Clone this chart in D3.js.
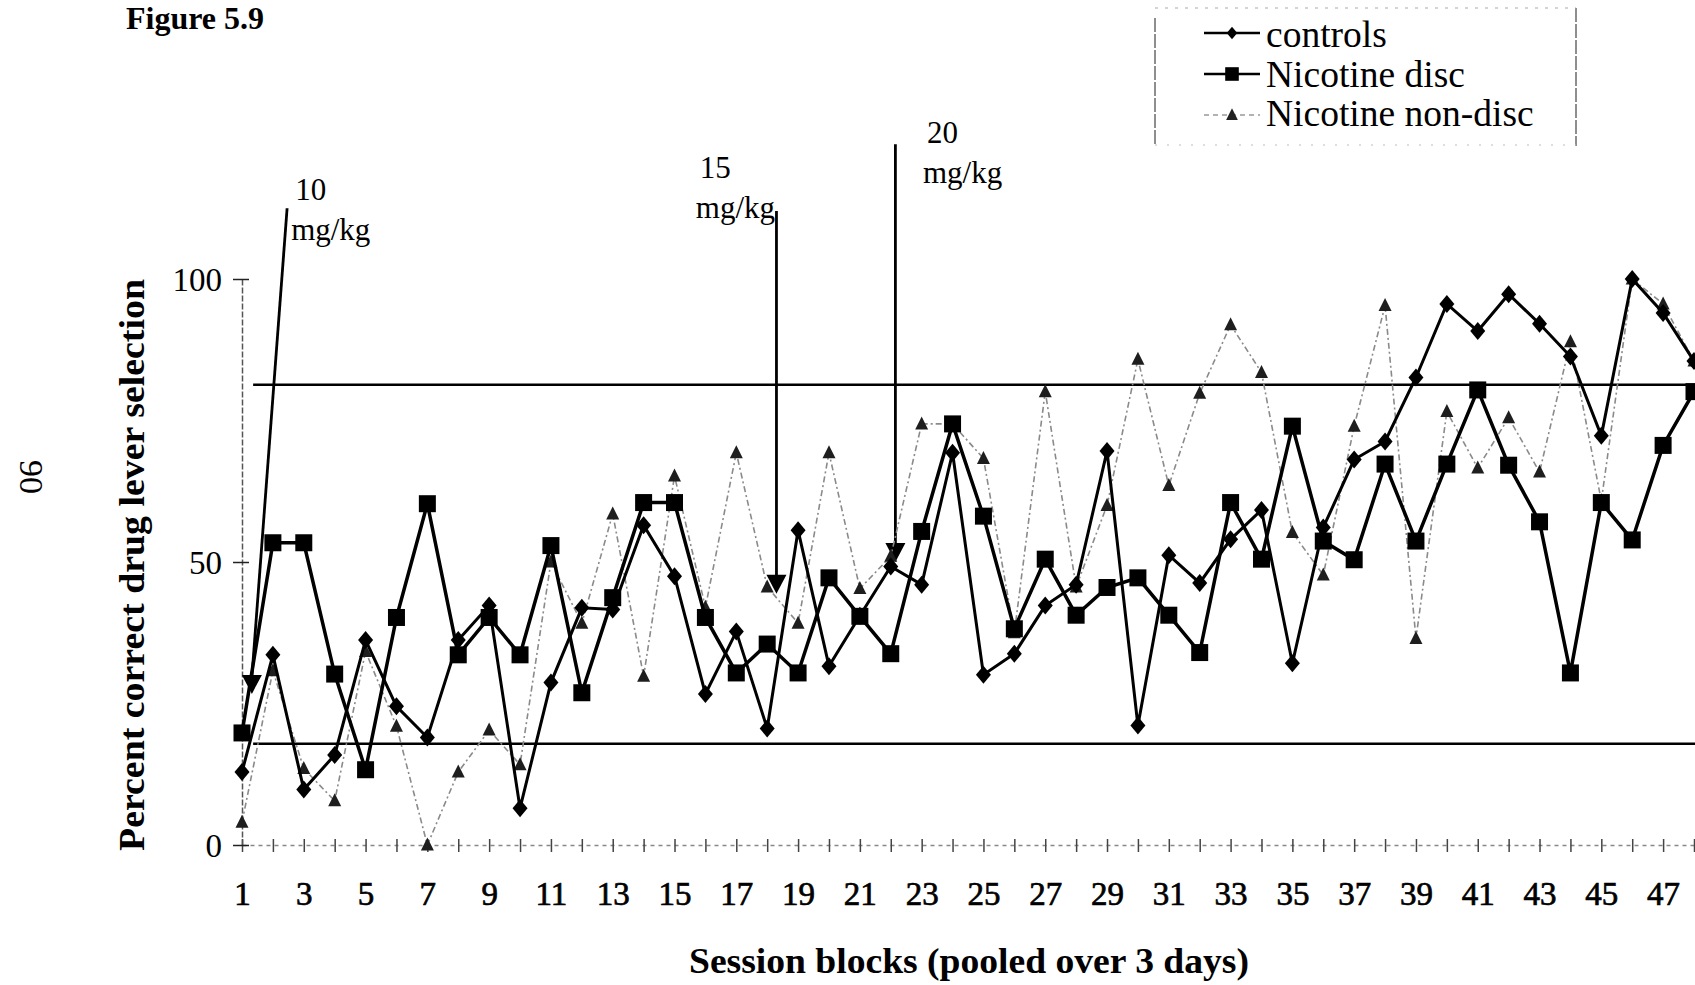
<!DOCTYPE html>
<html>
<head>
<meta charset="utf-8">
<script src="https://cdn.jsdelivr.net/npm/d3@7"></script>
<style>
  body { margin: 0; background: #fff; }
  svg { display: block; font-family: "Liberation Serif", "Times New Roman", serif; }
</style>
</head>
<body>
<div id="chart"></div>
<script>
var w = 1695, h = 985;

// session blocks 1..48
var sessions = d3.range(1, 49);
var yTickValues = [0, 50, 100];

var controls = [12.9, 33.6, 9.8, 15.9, 36.2, 24.5, 19.0, 36.2, 42.3, 6.5,
                28.7, 41.9, 41.6, 56.5, 47.5, 26.7, 37.7, 20.6, 55.6, 31.6,
                40.5, 49.2, 46.0, 69.3, 30.1, 33.8, 42.3, 46.0, 69.6, 21.1,
                51.2, 46.3, 54.0, 59.2, 32.1, 56.1, 68.1, 71.3, 82.6, 95.6,
                90.8, 97.3, 92.1, 86.3, 72.3, 100, 94.0, 85.5];
var nicDisc = [19.8, 53.4, 53.4, 30.2, 13.3, 40.2, 60.3, 33.6, 40.2, 33.6,
               52.9, 26.9, 43.7, 60.5, 60.5, 40.2, 30.4, 35.5, 30.4, 47.2,
               40.4, 33.8, 55.4, 74.4, 58.1, 38.2, 50.5, 40.6, 45.5, 47.2,
               40.6, 34.0, 60.5, 50.5, 74.0, 53.7, 50.4, 67.3, 53.7, 67.3,
               80.4, 67.1, 57.1, 30.4, 60.5, 53.9, 70.6, 80.1];
var nicNonDisc = [4.0, 30.8, 13.5, 7.8, 34.2, 21.0, 0, 12.9, 20.3, 14.2,
                  50.0, 39.2, 58.5, 29.8, 65.2, 42.0, 69.3, 45.6, 39.2, 69.3,
                  45.3, 51.0, 74.4, 74.4, 68.3, 37.5, 80.1, 45.6, 60.0, 85.8,
                  63.5, 79.8, 91.9, 83.5, 55.2, 47.7, 74.0, 95.3, 36.5, 76.6,
                  66.6, 75.5, 65.9, 88.9, 60.8, 100, 95.6, 85.5];

var seriesNames = ["controls", "Nicotine disc", "Nicotine non-disc"];

// criterion lines
var limitLines = [81.3, 17.9];
var limitStart = 1.36;

// dose change arrows: label, top point, tip point, label anchor (session, percent)
var doseLabels = ["10", "15", "20"];
var doseTop = [[2.46, 112.5], [18.3, 112], [22.15, 123.8]];
var doseTip = [[1.32, 26.7], [18.3, 44.4], [22.15, 50.0]];
var doseText = [[2.72, 113.9], [15.82, 117.8], [23.17, 124.0]];

var svg = d3.select("#chart").append("svg")
            .attr("width", w)
            .attr("height", h);

var xScale = d3.scaleLinear().domain([1, 48]).range([242, 1694]);
var yScale = d3.scaleLinear().domain([0, 100]).range([845, 279]);

//Title
svg.append("text")
   .attr("x", 126).attr("y", 29)
   .attr("font-size", 32).attr("font-weight", "bold")
   .attr("textLength", 138).attr("lengthAdjust", "spacingAndGlyphs")
   .text("Figure 5.9");

//Page number (rotated page)
svg.append("text")
   .attr("transform", "translate(20,477)rotate(90)")
   .attr("text-anchor", "middle")
   .attr("font-size", 34)
   .text("90");

//x axis
var xAxis = d3.axisBottom(xScale)
              .tickValues(sessions)
              .tickSizeOuter(0)
              .tickFormat(function(d) { return d % 2 ? d : ""; });
var gx = svg.append("g")
            .attr("transform", "translate(0," + yScale(0) + ")")
            .call(xAxis);
gx.select(".domain").attr("stroke", "#888").attr("stroke-width", 1.3).attr("stroke-dasharray", "4,4");
gx.selectAll(".tick line").attr("y1", -6).attr("y2", 7).attr("stroke", "#444").attr("stroke-width", 1.5);
gx.selectAll(".tick text")
  .attr("y", 60).attr("dy", 0)
  .attr("font-size", 33).attr("fill", "#000")
  .attr("stroke", "#000").attr("stroke-width", 0.7)
  .attr("font-family", "Liberation Serif");

//y axis
var yAxis = d3.axisLeft(yScale).tickValues(yTickValues).tickSizeOuter(0);
var gy = svg.append("g")
            .attr("transform", "translate(" + xScale(1) + ",0)")
            .call(yAxis);
gy.select(".domain").attr("stroke", "#555").attr("stroke-width", 1.5).attr("stroke-dasharray", "6,2");
gy.selectAll(".tick line").attr("x1", -9).attr("x2", 7).attr("stroke", "#222").attr("stroke-width", 1.5);
gy.selectAll(".tick text")
  .attr("x", -20).attr("dy", "0.34em")
  .attr("font-size", 33).attr("fill", "#000")
  .attr("font-family", "Liberation Serif");

//Axis titles
svg.append("text")
   .attr("transform", "translate(144,565)rotate(-90)")
   .attr("text-anchor", "middle")
   .attr("font-size", 35).attr("font-weight", "bold")
   .attr("textLength", 572).attr("lengthAdjust", "spacingAndGlyphs")
   .text("Percent correct drug lever selection");
svg.append("text")
   .attr("x", 969).attr("y", 973)
   .attr("text-anchor", "middle")
   .attr("font-size", 35).attr("font-weight", "bold")
   .attr("textLength", 560).attr("lengthAdjust", "spacingAndGlyphs")
   .text("Session blocks (pooled over 3 days)");

//Criterion lines
svg.selectAll(".limit")
   .data(limitLines)
   .enter()
   .append("line")
   .attr("class", "limit")
   .attr("x1", xScale(limitStart)).attr("x2", w)
   .attr("y1", function(d) { return yScale(d); })
   .attr("y2", function(d) { return yScale(d); })
   .attr("stroke", "#000").attr("stroke-width", 2.5);

//Dose arrows
var arrows = svg.append("g").attr("class", "arrows");
doseLabels.forEach(function(lab, i) {
    var tx = xScale(doseTip[i][0]), ty = yScale(doseTip[i][1]);
    var head = 19;
    arrows.append("line")
          .attr("x1", xScale(doseTop[i][0])).attr("y1", yScale(doseTop[i][1]))
          .attr("x2", tx).attr("y2", ty - head + 2)
          .attr("stroke", "#000").attr("stroke-width", 2.8);
    arrows.append("path")
          .attr("d", "M" + (tx - 10) + "," + (ty - head) + "L" + (tx + 10) + "," + (ty - head) + "L" + tx + "," + ty + "Z")
          .attr("fill", "#000");
    var t = arrows.append("text")
                  .attr("x", xScale(doseText[i][0]))
                  .attr("y", yScale(doseText[i][1]))
                  .attr("font-size", 31);
    t.append("tspan").attr("x", xScale(doseText[i][0])).text(lab);
    t.append("tspan").attr("x", xScale(doseText[i][0]) - 4).attr("dy", 40).text("mg/kg");
});

//Marker shapes
var diamond = "M0,-9L7.5,0L0,9L-7.5,0Z";
var square = "M-8.5,-8.5L8.5,-8.5L8.5,8.5L-8.5,8.5Z";
var triangle = "M0,-7.5L6.5,5.5L-6.5,5.5Z";

var line = d3.line()
             .x(function(d, i) { return xScale(sessions[i]); })
             .y(function(d) { return yScale(d); });

//Nicotine non-disc (dashed grey)
var nd = svg.append("g").attr("class", "series").attr("id", "non-disc");
nd.append("path")
  .datum(nicNonDisc)
  .attr("d", line)
  .style("fill", "none")
  .style("stroke", "#8a8a8a")
  .style("stroke-width", 1.6)
  .style("stroke-dasharray", "6,3,2,3");
nd.selectAll("path.mk")
  .data(nicNonDisc)
  .enter()
  .append("path")
  .attr("class", "mk")
  .attr("transform", function(d, i) { return "translate(" + xScale(sessions[i]) + "," + yScale(d) + ")"; })
  .attr("d", triangle)
  .style("fill", "#1e1e1e");

//Nicotine disc
var disc = svg.append("g").attr("class", "series").attr("id", "disc");
disc.append("path")
    .datum(nicDisc)
    .attr("d", line)
    .style("fill", "none")
    .style("stroke", "#000")
    .style("stroke-width", 3.5);
disc.selectAll("path.mk")
    .data(nicDisc)
    .enter()
    .append("path")
    .attr("class", "mk")
    .attr("transform", function(d, i) { return "translate(" + xScale(sessions[i]) + "," + yScale(d) + ")"; })
    .attr("d", square)
    .style("fill", "#000");

//Controls
var ctl = svg.append("g").attr("class", "series").attr("id", "controls");
ctl.append("path")
   .datum(controls)
   .attr("d", line)
   .style("fill", "none")
   .style("stroke", "#000")
   .style("stroke-width", 3);
ctl.selectAll("path.mk")
   .data(controls)
   .enter()
   .append("path")
   .attr("class", "mk")
   .attr("transform", function(d, i) { return "translate(" + xScale(sessions[i]) + "," + yScale(d) + ")"; })
   .attr("d", diamond)
   .style("fill", "#000");

//Legend
var lg = svg.append("g").attr("class", "legend");
lg.append("line").attr("x1", 1155).attr("x2", 1155).attr("y1", 18).attr("y2", 144)
  .attr("stroke", "#444").attr("stroke-width", 1.2).attr("stroke-dasharray", "14,2");
lg.append("line").attr("x1", 1576).attr("x2", 1576).attr("y1", 8).attr("y2", 146)
  .attr("stroke", "#444").attr("stroke-width", 1.2).attr("stroke-dasharray", "14,2");
lg.append("line").attr("x1", 1155).attr("x2", 1576).attr("y1", 8).attr("y2", 8)
  .attr("stroke", "#aaa").attr("stroke-width", 1.2).attr("stroke-dasharray", "3,7");
lg.append("line").attr("x1", 1155).attr("x2", 1576).attr("y1", 145).attr("y2", 145)
  .attr("stroke", "#bbb").attr("stroke-width", 1.2).attr("stroke-dasharray", "2,10");

var legendShapes = [diamond, square, triangle];
seriesNames.forEach(function(name, i) {
    var cy = 33 + i * 41;
    var row = lg.append("g");
    row.append("line")
       .attr("x1", 1204).attr("x2", 1260).attr("y1", cy).attr("y2", cy)
       .attr("stroke", i == 2 ? "#999" : "#000")
       .attr("stroke-width", i == 2 ? 1.5 : 2.5)
       .attr("stroke-dasharray", i == 2 ? "5,4" : null);
    row.append("path")
       .attr("transform", "translate(1232," + cy + ")" + (i == 0 ? "scale(0.7)" : i == 1 ? "scale(0.8)" : "scale(0.9)"))
       .attr("d", legendShapes[i])
       .attr("fill", i == 2 ? "#222" : "#000");
    row.append("text")
       .attr("x", 1266).attr("y", 47 + i * 39.5)
       .attr("font-size", 37.5)
       .text(name);
});
</script>
</body>
</html>
